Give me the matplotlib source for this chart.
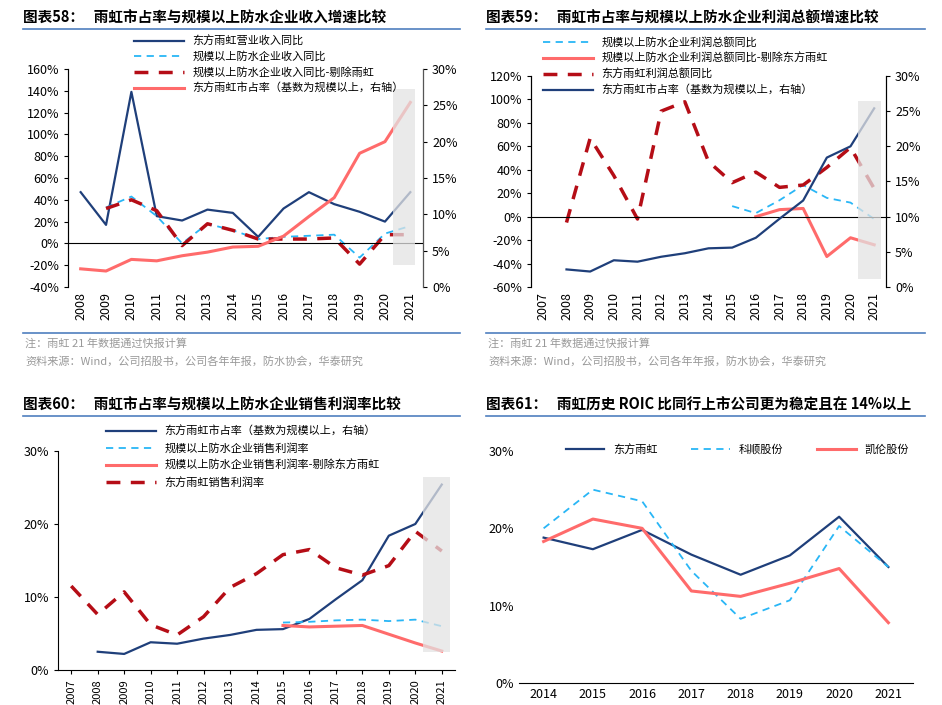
import matplotlib
matplotlib.use("Agg")
import matplotlib.pyplot as plt
from matplotlib.ticker import PercentFormatter
import numpy as np

plt.rcParams['font.family'] = ['Noto Sans CJK SC', 'DejaVu Sans']
plt.rcParams['axes.unicode_minus'] = False

NAVY = '#1f3f7a'; CYAN = '#29b6f6'; DRED = '#b50d16'; SAL = '#ff6b6b'

# ---- Panel 58 data ----
y58 = [str(y) for y in range(2008, 2022)]
rev_yh = [47, 17, 139, 25, 21, 31, 28, 6, 32, 47, 36, 29, 20, 47]
ind_rev = [None, 33, 43, 25, 0, 18, 12, 4, 6, 7, 8, -13, 9, 16]
ind_rev_ex = [None, 32, 40, 30, -2, 18, 12, 4, 4, 4, 5, -19, 8, 8]
share = [2.5, 2.2, 3.8, 3.6, 4.3, 4.8, 5.5, 5.6, 7.0, 9.7, 12.3, 18.4, 20.0, 25.4]

# ---- Panel 59 data ----
y59 = [str(y) for y in range(2007, 2022)]
ind_prof = [None]*8 + [9, 3, 14, 27, 16, 12, -2]
ind_prof_ex = [None]*9 + [0, 6, 7, -34, -18, -24]
yh_prof = [None, -5, 67, 35, -2, 90, 98, 47, 29, 38, 25, 27, 42, 59, 24]
share59 = [None] + share

# ---- Panel 60 data ----
y60 = y59
share60 = [None] + share
ind_margin = [None]*8 + [6.5, 6.6, 6.8, 6.9, 6.7, 6.9, 6.0]
ind_margin_ex = [None]*8 + [6.1, 5.9, 6.0, 6.1, 4.9, 3.7, 2.6]
yh_margin = [11.5, 7.6, 10.7, 6.2, 4.8, 7.3, 11.3, 13.2, 15.8, 16.5, 14.0, 13.0, 14.3, 19.0, 16.3]

# ---- Panel 61 data ----
y61 = [str(y) for y in range(2014, 2022)]
roic_yh = [18.8, 17.3, 19.8, 16.6, 14.0, 16.5, 21.5, 15.0]
roic_kst = [20.0, 25.0, 23.5, 14.5, 8.3, 10.7, 20.3, 15.0]
roic_kl = [18.3, 21.2, 20.0, 11.9, 11.2, 12.9, 14.8, 7.8]

W, H = 942, 705
fig = plt.figure(figsize=(9.42, 7.05), dpi=100)

def ax_at(l, t, r, b):
    return fig.add_axes([l/W, 1-b/H, (r-l)/W, (b-t)/H])

def arr(v):
    return np.array([np.nan if x is None else x for x in v], float)

def header(x0, x1, y, text):
    fig.text(x0/W, 1-y/H, text, fontsize=10.5, fontweight='bold', va='center')
    fig.add_artist(plt.Line2D([x0/W, x1/W], [1-(y+11)/H]*2, color='#4f7fbf', lw=1.2))

def footer(x0, x1, y, lines):
    fig.add_artist(plt.Line2D([x0/W, x1/W], [1-y/H]*2, color='#4f7fbf', lw=1.2))
    for i, s in enumerate(lines):
        fig.text(x0/W + 2/W, 1-(y+10+i*18)/H, s, fontsize=8, color='#999999', va='center')

def shade(ax, x0, x1, y0, y1):
    ax.add_patch(plt.Rectangle((x0, y0), x1-x0, y1-y0, color='#e3e3e3', alpha=0.75, zorder=5, lw=0))

# ===== Panel 58 =====
header(23, 460, 18, '图表58：   雨虹市占率与规模以上防水企业收入增速比较')
ax = ax_at(68, 69, 423, 287)
x = np.arange(len(y58))
l1, = ax.plot(x, rev_yh, color=NAVY, lw=1.6, label='东方雨虹营业收入同比')
l2, = ax.plot(x, arr(ind_rev), color=CYAN, lw=1.3, ls=(0, (4, 3)), label='规模以上防水企业收入同比')
l3, = ax.plot(x, arr(ind_rev_ex), color=DRED, lw=2.5, ls=(0, (4, 3)), label='规模以上防水企业收入同比-剔除雨虹')
ax.set_ylim(-40, 160); ax.set_yticks(range(-40, 161, 20))
ax.yaxis.set_major_formatter(PercentFormatter(decimals=0))
ax.set_xlim(-0.5, len(x)-0.5)
ax.axhline(0, color='black', lw=0.8)
ax2 = ax.twinx()
l4, = ax2.plot(x, share, color=SAL, lw=2.2, label='东方雨虹市占率（基数为规模以上，右轴）')
ax2.set_ylim(0, 30); ax2.set_yticks(range(0, 31, 5))
ax2.yaxis.set_major_formatter(PercentFormatter(decimals=0))
shade(ax2, 12.3, 13.2, 3, 27.2)
for a in (ax, ax2):
    a.spines['top'].set_visible(False); a.spines['bottom'].set_visible(False)
    a.tick_params(labelsize=9, length=3)
ax.spines['left'].set_color('#555'); ax2.spines['right'].set_color('#555')
ax.set_xticks(x); ax.set_xticklabels(y58, rotation=90); ax.tick_params(axis='x', length=0)
fig.legend(handles=[l1, l2, l3, l4], loc='upper left', bbox_to_anchor=(128/W, 1-30/H), frameon=False,
           fontsize=8, handlelength=4.5, labelspacing=0.45, borderpad=0)
footer(23, 460, 333, ['注：雨虹 21 年数据通过快报计算', '资料来源：Wind，公司招股书，公司各年年报，防水协会，华泰研究'])

# ===== Panel 59 =====
header(486, 925, 18, '图表59：   雨虹市占率与规模以上防水企业利润总额增速比较')
ax = ax_at(531, 76, 886, 287)
x = np.arange(len(y59))
m1, = ax.plot(x, arr(ind_prof), color=CYAN, lw=1.3, ls=(0, (4, 3)), label='规模以上防水企业利润总额同比')
m2, = ax.plot(x, arr(ind_prof_ex), color=SAL, lw=2.2, label='规模以上防水企业利润总额同比-剔除东方雨虹')
m3, = ax.plot(x, arr(yh_prof), color=DRED, lw=2.5, ls=(0, (4, 3)), label='东方雨虹利润总额同比')
ax.set_ylim(-60, 120); ax.set_yticks(range(-60, 121, 20))
ax.yaxis.set_major_formatter(PercentFormatter(decimals=0))
ax.set_xlim(-0.5, len(x)-0.5)
ax.axhline(0, color='black', lw=0.8)
ax2 = ax.twinx()
m4, = ax2.plot(x, arr(share59), color=NAVY, lw=1.6, label='东方雨虹市占率（基数为规模以上，右轴）')
ax2.set_ylim(0, 30); ax2.set_yticks(range(0, 31, 5))
ax2.yaxis.set_major_formatter(PercentFormatter(decimals=0))
shade(ax2, 13.3, 14.3, 1.2, 26.4)
for a in (ax, ax2):
    a.spines['top'].set_visible(False); a.spines['bottom'].set_visible(False)
    a.tick_params(labelsize=9, length=3)
ax.set_xticks(x); ax.set_xticklabels(y59, rotation=90); ax.tick_params(axis='x', length=0)
fig.legend(handles=[m1, m2, m3, m4], loc='upper left', bbox_to_anchor=(537/W, 1-31/H), frameon=False,
           fontsize=8, handlelength=4.5, labelspacing=0.45, borderpad=0)
footer(486, 925, 333, ['注：雨虹 21 年数据通过快报计算', '资料来源：Wind，公司招股书，公司各年年报，防水协会，华泰研究'])

# ===== Panel 60 =====
header(23, 460, 405, '图表60：   雨虹市占率与规模以上防水企业销售利润率比较')
ax = ax_at(58, 451, 455, 670)
x = np.arange(len(y60))
n1, = ax.plot(x, arr(share60), color=NAVY, lw=1.6, label='东方雨虹市占率（基数为规模以上，右轴）')
n2, = ax.plot(x, arr(ind_margin), color=CYAN, lw=1.3, ls=(0, (4, 3)), label='规模以上防水企业销售利润率')
n3, = ax.plot(x, arr(ind_margin_ex), color=SAL, lw=2.2, label='规模以上防水企业销售利润率-剔除东方雨虹')
n4, = ax.plot(x, yh_margin, color=DRED, lw=2.5, ls=(0, (4, 3)), label='东方雨虹销售利润率')
ax.set_ylim(0, 30); ax.set_yticks(range(0, 31, 10))
ax.yaxis.set_major_formatter(PercentFormatter(decimals=0))
ax.set_xlim(-0.5, len(x)-0.5)
shade(ax, 13.3, 14.3, 2.5, 26.5)
ax.spines['top'].set_visible(False); ax.spines['right'].set_visible(False)
ax.tick_params(labelsize=9, length=3)
ax.set_xticks(x); ax.set_xticklabels(y60, rotation=90, fontsize=8)
fig.legend(handles=[n1, n2, n3, n4], loc='upper left', bbox_to_anchor=(100/W, 1-420/H), frameon=False,
           fontsize=8, handlelength=4.5, labelspacing=0.55, borderpad=0)

# ===== Panel 61 =====
header(486, 925, 405, '图表61：   雨虹历史 ROIC 比同行上市公司更为稳定且在 14%以上')
ax = ax_at(519, 451, 913, 683)
x = np.arange(len(y61))
p1, = ax.plot(x, roic_yh, color=NAVY, lw=1.6, label='东方雨虹')
p2, = ax.plot(x, roic_kst, color=CYAN, lw=1.3, ls=(0, (4, 3)), label='科顺股份')
p3, = ax.plot(x, roic_kl, color=SAL, lw=2.2, label='凯伦股份')
ax.set_ylim(0, 30); ax.set_yticks(range(0, 31, 10))
ax.yaxis.set_major_formatter(PercentFormatter(decimals=0))
ax.set_xlim(-0.5, len(x)-0.5)
for s in ('top', 'right', 'left'):
    ax.spines[s].set_visible(False)
ax.tick_params(labelsize=9, length=0)
ax.set_xticks(x); ax.set_xticklabels(y61)
fig.legend(handles=[p1, p2, p3], loc='upper left', bbox_to_anchor=(560/W, 1-438/H), frameon=False,
           fontsize=8, handlelength=3.5, ncol=3, columnspacing=3, borderpad=0)

fig.savefig('out.png', dpi=100)
